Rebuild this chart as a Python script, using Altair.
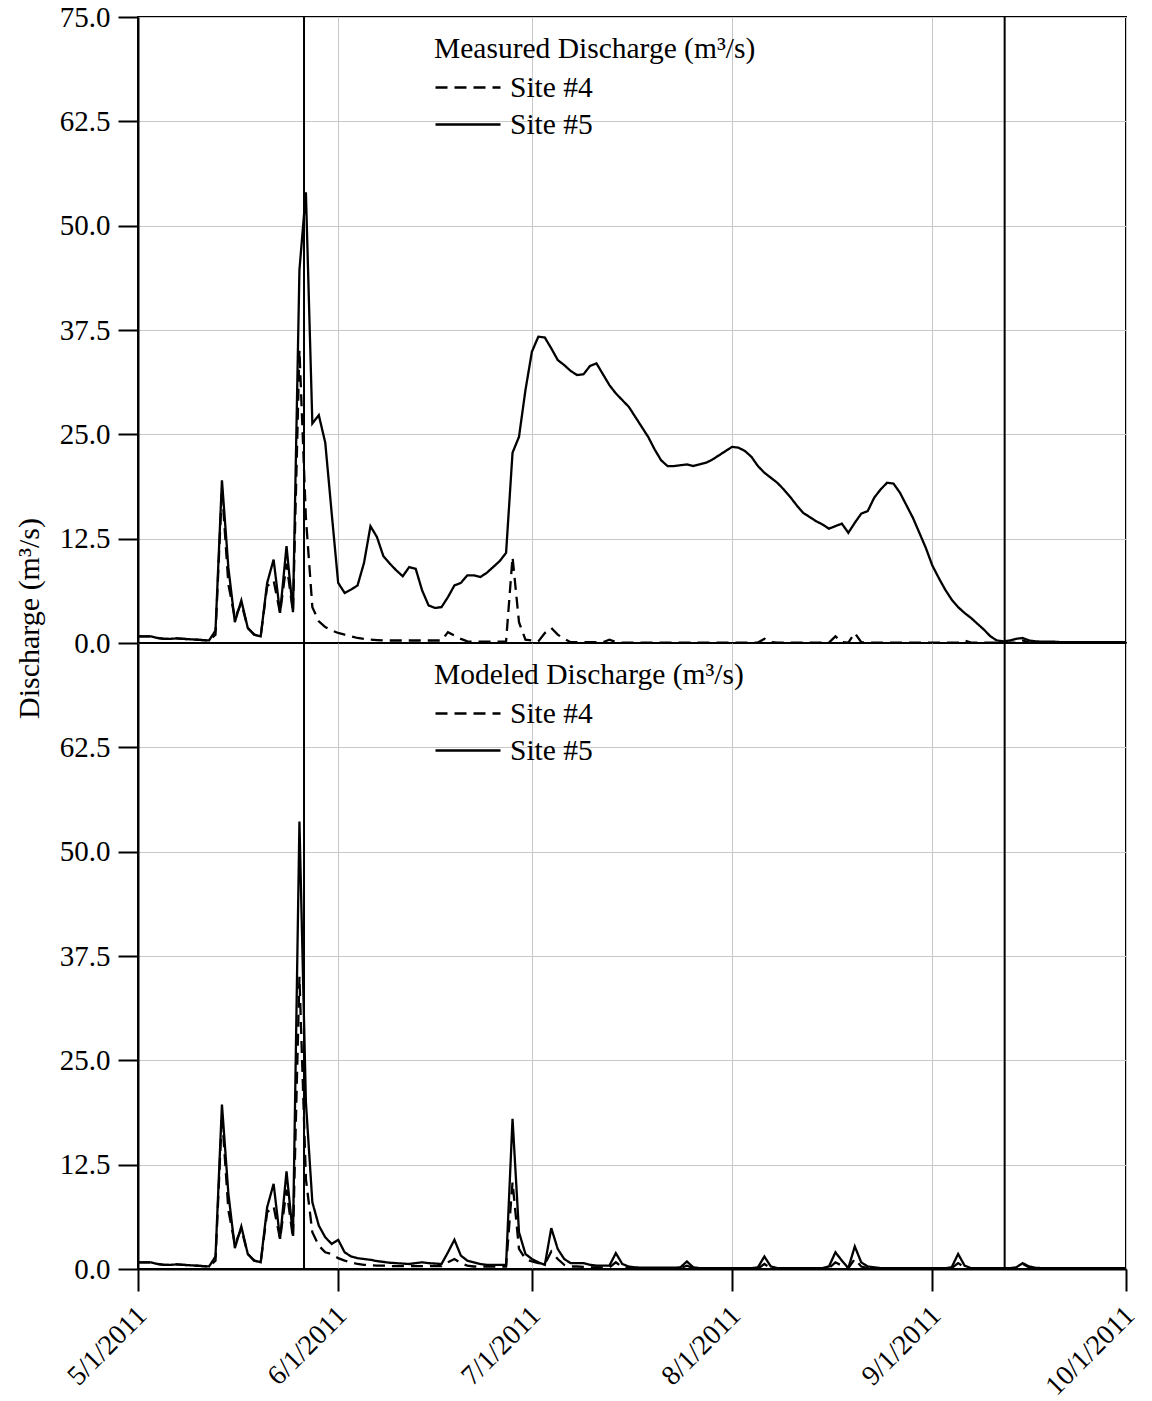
import altair as alt
import pandas as pd

START = "2011-05-01"
SITES = ["Site #4", "Site #5"]
Y_TICKS_TOP = [0, 12.5, 25, 37.5, 50, 62.5, 75]
Y_TICKS_BOTTOM = [0, 12.5, 25, 37.5, 50, 62.5]
MONTHS = [5, 6, 7, 8, 9, 10]
EVENT_DATES = ["2011-05-26T17:00:00", "2011-09-12T05:00:00"]

# Measured discharge, daily from 5/1/2011 (m3/s)
meas_site5 = [
    0.8, 0.8, 0.8, 0.6, 0.5, 0.5, 0.55, 0.5, 0.45, 0.4,
    0.35, 0.3, 1.5, 19.5, 9.0, 2.5, 5.1, 1.8, 1.0, 0.8,
    7.2, 10.0, 3.6, 11.6, 3.7, 44.7, 54.0, 26.3, 27.3, 24.0,
    15.5, 7.2, 6.0, 6.4, 6.9, 9.6, 14.0, 12.7, 10.4, 9.5,
    8.7, 8.0, 9.1, 8.9, 6.3, 4.5, 4.2, 4.3, 5.5, 6.9,
    7.2, 8.1, 8.1, 7.9, 8.4, 9.1, 9.8, 10.8, 22.8, 24.7,
    30.3, 34.9, 36.7, 36.6, 35.3, 33.9, 33.3, 32.6, 32.1, 32.2,
    33.2, 33.5, 32.2, 30.9, 29.9, 29.1, 28.3, 27.1, 25.9, 24.7,
    23.2, 21.9, 21.2, 21.2, 21.3, 21.4, 21.2, 21.4, 21.6, 22.0,
    22.5, 23.0, 23.5, 23.4, 23.0, 22.3, 21.2, 20.4, 19.8, 19.2,
    18.4, 17.5, 16.5, 15.6, 15.1, 14.6, 14.2, 13.7, 14.0, 14.3,
    13.2, 14.4, 15.5, 15.8, 17.4, 18.4, 19.2, 19.1, 18.0, 16.5,
    15.0, 13.2, 11.4, 9.3, 7.8, 6.4, 5.2, 4.3, 3.6, 3.0,
    2.3, 1.6, 0.8, 0.3, 0.2, 0.3, 0.5, 0.6, 0.3, 0.2,
    0.15, 0.15, 0.15, 0.1, 0.1, 0.1, 0.1, 0.1, 0.1, 0.1,
    0.1, 0.1, 0.1, 0.1,
]
meas_site4 = [
    0.8, 0.8, 0.8, 0.6, 0.5, 0.5, 0.55, 0.5, 0.45, 0.4,
    0.35, 0.3, 1.0, 18.5, 7.0, 3.0, 4.8, 1.8, 1.0, 0.8,
    6.8, 7.5, 3.6, 9.5, 3.7, 35.1, 15.0, 4.3, 2.6, 1.9,
    1.5, 1.2, 1.0, 0.8, 0.6, 0.5, 0.4, 0.35, 0.3, 0.3,
    0.3, 0.3, 0.3, 0.3, 0.3, 0.3, 0.3, 0.3, 1.3, 0.9,
    0.5, 0.2, 0.15, 0.15, 0.15, 0.15, 0.15, 0.2, 10.3, 2.5,
    0.4, 0.3, 0.2, 1.2, 1.8, 1.0, 0.5, 0.1, 0.1, 0.1,
    0.1, 0.1, 0.1, 0.4, 0.1, 0.05, 0.05, 0.05, 0.05, 0.05,
    0.05, 0.05, 0.05, 0.05, 0.05, 0.05, 0.05, 0.05, 0.05, 0.05,
    0.05, 0.05, 0.05, 0.05, 0.05, 0.05, 0.05, 0.5, 0.1, 0.05,
    0.05, 0.05, 0.05, 0.05, 0.05, 0.05, 0.05, 0.05, 0.8, 0.1,
    0.05, 1.2, 0.1, 0.05, 0.05, 0.05, 0.05, 0.05, 0.05, 0.05,
    0.05, 0.05, 0.05, 0.05, 0.05, 0.05, 0.05, 0.05, 0.3, 0.05,
    0.05, 0.05, 0.05, 0.05, 0.05, 0.05, 0.05, 0.3, 0.05, 0.05,
    0.05, 0.05, 0.05, 0.05, 0.05, 0.05, 0.05, 0.05, 0.05, 0.05,
    0.05, 0.05, 0.05, 0.05,
]

# Modeled discharge, daily from 5/1/2011 (m3/s)
model_site5 = [
    0.8, 0.8, 0.8, 0.6, 0.5, 0.5, 0.55, 0.5, 0.45, 0.4,
    0.35, 0.3, 1.5, 19.7, 9.0, 2.5, 5.1, 1.8, 1.0, 0.8,
    7.4, 10.2, 3.6, 11.7, 4.0, 53.6, 20.0, 8.0, 5.2, 3.8,
    3.0, 3.5, 2.0, 1.5, 1.3, 1.2, 1.1, 0.95, 0.85, 0.75,
    0.7, 0.65, 0.6, 0.7, 0.8, 0.7, 0.65, 0.6, 2.0, 3.5,
    1.6, 1.0, 0.8, 0.6, 0.5, 0.5, 0.5, 0.5, 18.0, 4.4,
    1.8, 1.2, 0.8, 0.5, 4.9, 2.4, 1.2, 0.7, 0.7, 0.7,
    0.5, 0.4, 0.4, 0.4, 1.9, 0.6, 0.3, 0.2, 0.15, 0.15,
    0.15, 0.15, 0.15, 0.15, 0.2, 0.9, 0.2, 0.1, 0.1, 0.1,
    0.1, 0.1, 0.1, 0.1, 0.1, 0.1, 0.2, 1.5, 0.3, 0.1,
    0.1, 0.1, 0.1, 0.1, 0.1, 0.1, 0.1, 0.3, 2.0, 1.0,
    0.1, 2.7, 0.8, 0.3, 0.2, 0.1, 0.1, 0.1, 0.1, 0.1,
    0.1, 0.1, 0.1, 0.1, 0.1, 0.1, 0.2, 1.8, 0.4, 0.1,
    0.1, 0.1, 0.1, 0.1, 0.1, 0.1, 0.2, 0.7, 0.3, 0.15,
    0.1, 0.1, 0.1, 0.1, 0.1, 0.1, 0.1, 0.1, 0.1, 0.1,
    0.1, 0.1, 0.1, 0.1,
]
model_site4 = [
    0.8, 0.8, 0.8, 0.6, 0.5, 0.5, 0.55, 0.5, 0.45, 0.4,
    0.35, 0.3, 1.0, 18.5, 7.0, 3.0, 4.8, 1.8, 1.0, 0.8,
    6.8, 7.5, 3.6, 9.5, 3.7, 35.0, 10.8, 4.4, 2.8, 2.0,
    1.8, 1.3, 1.0, 0.8, 0.6, 0.5, 0.45, 0.4, 0.4, 0.35,
    0.35, 0.35, 0.35, 0.35, 0.35, 0.35, 0.35, 0.35, 0.8, 1.2,
    0.7, 0.4, 0.3, 0.3, 0.3, 0.3, 0.3, 0.3, 10.4, 2.4,
    1.2, 0.9, 0.7, 0.6, 2.1, 1.2, 0.5, 0.3, 0.3, 0.25,
    0.2, 0.2, 0.2, 0.2, 0.8, 0.2, 0.1, 0.1, 0.1, 0.1,
    0.1, 0.1, 0.1, 0.1, 0.1, 0.4, 0.1, 0.05, 0.05, 0.05,
    0.05, 0.05, 0.05, 0.05, 0.05, 0.05, 0.05, 0.6, 0.1, 0.05,
    0.05, 0.05, 0.05, 0.05, 0.05, 0.05, 0.05, 0.1, 0.8, 0.4,
    0.1, 1.2, 0.3, 0.1, 0.05, 0.05, 0.05, 0.05, 0.05, 0.05,
    0.05, 0.05, 0.05, 0.05, 0.05, 0.05, 0.1, 0.7, 0.2, 0.05,
    0.05, 0.05, 0.05, 0.05, 0.05, 0.05, 0.1, 0.6, 0.2, 0.05,
    0.05, 0.05, 0.05, 0.05, 0.05, 0.05, 0.05, 0.05, 0.05, 0.05,
    0.05, 0.05, 0.05, 0.05,
]


def series_frame(values, site):
    dates = pd.date_range(START, periods=len(values), freq="D").strftime("%Y-%m-%dT%H:%M:%S")
    return pd.DataFrame({"date": dates, "q": values, "site": site})


measured = pd.concat([series_frame(meas_site4, SITES[0]), series_frame(meas_site5, SITES[1])])
modeled = pd.concat([series_frame(model_site4, SITES[0]), series_frame(model_site5, SITES[1])])
events = pd.DataFrame({"date": EVENT_DATES})

FONT = "Liberation Serif"
W, H = 988, 626
month_vals = [alt.DateTime(year=2011, month=m, date=1) for m in MONTHS]
x_domain = [month_vals[0], month_vals[-1]]


def panel(df, legend_title, bottom):
    if bottom:
        x_axis = alt.Axis(values=month_vals, format="%-m/%-d/%Y", title=None, grid=True,
                          labelAngle=315, labelAlign="right", labelBaseline="top",
                          tickSize=22, labelPadding=10, labelOffset=-6, labelFontSize=28)
        y_axis = alt.Axis(values=Y_TICKS_BOTTOM, format=".1f", title=None, tickSize=20,
                          labelPadding=8, grid=True)
    else:
        x_axis = alt.Axis(values=month_vals, title=None, grid=True, labels=False,
                          ticks=False, domain=False)
        y_axis = alt.Axis(values=Y_TICKS_TOP, format=".1f", title="Discharge (m³/s)",
                          tickSize=20, labelPadding=8, grid=True, titleAngle=270,
                          titleX=-109, titleY=601, titleAlign="center",
                          titleBaseline="middle", titleFontSize=30)
    x = alt.X("date:T", scale=alt.Scale(domain=x_domain), axis=x_axis)
    lines = alt.Chart(df).mark_line(color="black", strokeWidth=2.3).encode(
        x=x,
        y=alt.Y("q:Q", scale=alt.Scale(domain=[0, 75], nice=False), axis=y_axis),
        strokeDash=alt.StrokeDash(
            "site:N",
            scale=alt.Scale(domain=SITES, range=[[12, 7], [1, 0]]),
            legend=alt.Legend(
                title=legend_title, orient="none", legendX=296, legendY=18,
                direction="vertical", symbolType="M-1,0H1", symbolSize=4225,
                symbolStrokeWidth=2.5, symbolStrokeColor="black", labelOffset=8,
                clipHeight=28, rowPadding=7, titlePadding=9, padding=0, titleLimit=700,
                labelFont=FONT, labelFontSize=29.5, labelColor="black",
                titleFont=FONT, titleFontSize=29.5, titleFontWeight="normal",
                titleColor="black",
            ),
        ),
    )
    rules = alt.Chart(events).mark_rule(color="black", strokeWidth=2).encode(
        x=alt.X("date:T", title=None)
    )
    return alt.layer(lines, rules).properties(width=W, height=H)


top = panel(measured, "Measured Discharge (m³/s)", False)
bottom = panel(modeled, "Modeled Discharge (m³/s)", True)

chart = (
    alt.vconcat(top, bottom, spacing=0)
    .resolve_scale(strokeDash="independent")
    .resolve_legend(strokeDash="independent")
    .properties(bounds="flush", padding={"left": 13, "top": 2, "right": 0, "bottom": 0},
                background="white")
    .configure_view(stroke="black", strokeWidth=2)
    .configure_axis(
        labelFont=FONT, labelFontSize=29, labelColor="black",
        titleFont=FONT, titleFontSize=30, titleFontWeight="normal", titleColor="black",
        domainColor="black", domainWidth=2, tickColor="black", tickWidth=2,
        gridColor="#c8c8c8", gridWidth=1,
    )
)

chart.save("out.html", embed_options={"renderer": "svg", "actions": False})
